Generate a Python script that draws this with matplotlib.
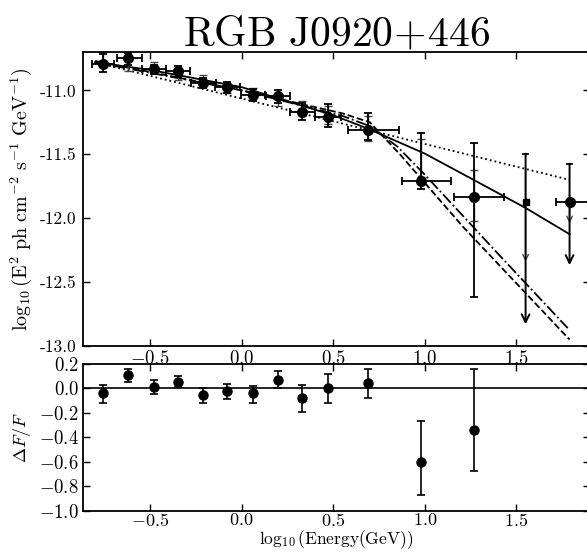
import matplotlib
matplotlib.use("Agg")
import matplotlib.pyplot as plt
from matplotlib.ticker import FixedLocator, FixedFormatter

plt.rcParams["mathtext.fontset"] = "cm"
plt.rcParams["font.family"] = ["cmr10", "DejaVu Serif"]
plt.rcParams["axes.formatter.use_mathtext"] = True

# Spectral points: log10(E/GeV) with bin half-widths, log10(E^2 dN/dE)
log_e = [-0.756, -0.62, -0.48, -0.35, -0.21, -0.078, 0.06, 0.197, 0.33, 0.47, 0.69, 0.978, 1.266]
log_e_lo = [0.06, 0.063, 0.065, 0.065, 0.066, 0.066, 0.066, 0.066, 0.066, 0.068, 0.112, 0.104, 0.109]
log_e_hi = [0.06, 0.074, 0.068, 0.068, 0.068, 0.068, 0.068, 0.068, 0.068, 0.07, 0.167, 0.165, 0.167]
log_flux = [-10.797, -10.75, -10.836, -10.85, -10.94, -10.974, -11.034, -11.045, -11.17, -11.21, -11.307, -11.71, -11.836]
flux_err_lo = [0.06, 0.05, 0.04, 0.045, 0.04, 0.045, 0.05, 0.055, 0.06, 0.08, 0.083, 0.065, 0.78]
flux_err_hi = [0.08, 0.04, 0.035, 0.04, 0.04, 0.04, 0.045, 0.05, 0.07, 0.10, 0.13, 0.373, 0.426]

# Statistical-only error bars
log_flux_stat = [-10.76, -10.80, -10.82, -10.88, -10.92, -10.98, -11.02, -11.07, -11.14, -11.19, -11.30, -11.53, -11.82]
flux_err_stat = [0.06, 0.05, 0.04, 0.04, 0.04, 0.04, 0.04, 0.05, 0.06, 0.07, 0.10, 0.15, 0.20]

# Upper limits in the highest-energy bins
ul_e = [1.55, 1.79]
ul_e_lo = [0.0, 0.074]
ul_e_hi = [0.0, 0.12]
ul_flux = [-11.87, -11.87]
ul_top = [-11.495, -11.573]
ul_end = [-12.83, -12.367]
ul_stat_top = [-11.64, -11.80]
ul_stat_end = [-12.34, -12.04]

# Model curves
pl_e = [-0.80, 1.79]
pl_flux = [-10.78, -11.70]
lp_e = [-0.80, -0.5, 0.0, 0.5, 0.69, 1.0, 1.266, 1.55, 1.79]
lp_flux = [-10.78, -10.84, -10.975, -11.195, -11.30, -11.495, -11.70, -11.92, -12.125]
bpl_e = [-0.80, 0.0, 0.55, 0.70, 0.87, 1.21, 1.79]
bpl_flux = [-10.77, -11.00, -11.18, -11.25, -11.51, -12.07, -12.95]
ec_e = [-0.80, 0.0, 0.55, 0.70, 0.85, 1.0, 1.42, 1.78]
ec_flux = [-10.78, -11.00, -11.20, -11.28, -11.44, -11.66, -12.31, -12.86]

# Residuals
resid = [-0.038, 0.11, 0.016, 0.05, -0.05, -0.02, -0.04, 0.07, -0.08, 0.0, 0.045, -0.60, -0.34]
resid_lo = [0.082, 0.06, 0.059, 0.04, 0.065, 0.063, 0.076, 0.07, 0.11, 0.12, 0.125, 0.268, 0.333]
resid_hi = [0.068, 0.05, 0.054, 0.05, 0.055, 0.06, 0.064, 0.07, 0.105, 0.12, 0.11, 0.335, 0.50]

x_ticks = [-0.5, 0.0, 0.5, 1.0, 1.5]
y_ticks = [-13.0, -12.5, -12.0, -11.5, -11.0]
y_tick_labels = ["-13.0", "-12.5", "-12.0", "-11.5", "-11.0"]

fig = plt.figure(figsize=(5.87, 5.52), dpi=100)
ax = fig.add_axes([0.1414, 0.3732, 0.8632, 0.5326])
axr = fig.add_axes([0.1414, 0.0745, 0.8632, 0.2661])

# model lines
ax.plot(pl_e, pl_flux, color="k", ls=":", lw=1.3)
ax.plot(lp_e, lp_flux, color="k", ls="-", lw=1.3)
ax.plot(bpl_e, bpl_flux, color="k", ls="--", lw=1.3)
ax.plot(ec_e, ec_flux, color="k", ls="-.", lw=1.3)

# statistical error bars
ax.errorbar(log_e, log_flux_stat, yerr=flux_err_stat, fmt="none",
            ecolor="#444444", elinewidth=1.0, capsize=3, capthick=1.0)
for xe, t, b in zip(ul_e, ul_stat_top, ul_stat_end):
    ax.annotate("", xy=(xe, b), xytext=(xe, t),
                arrowprops=dict(arrowstyle="->", color="#444444", lw=1.0,
                                shrinkA=0, shrinkB=0))

# full error bars with markers
ax.errorbar(log_e, log_flux, xerr=[log_e_lo, log_e_hi],
            yerr=[flux_err_lo, flux_err_hi], fmt="o", color="k", ms=7,
            elinewidth=1.3, capsize=3, capthick=1.3)

# upper limits
ax.errorbar(ul_e, ul_flux, xerr=[ul_e_lo, ul_e_hi], fmt="none", ecolor="k",
            elinewidth=1.3, capsize=3, capthick=1.3)
ax.plot(ul_e[:1], ul_flux[:1], "s", color="k", ms=4)
ax.plot(ul_e[1:], ul_flux[1:], "o", color="k", ms=7)
for xe, t, b in zip(ul_e, ul_top, ul_end):
    ax.plot([xe - 0.013, xe + 0.013], [t, t], color="k", lw=1.3)
    ax.annotate("", xy=(xe, b), xytext=(xe, t),
                arrowprops=dict(arrowstyle="->", color="k", lw=1.4,
                                mutation_scale=14, shrinkA=0, shrinkB=0))

ax.set_xlim(-0.866, 1.9)
ax.set_ylim(-13.0, -10.7)
ax.xaxis.set_major_locator(FixedLocator(x_ticks))
ax.yaxis.set_major_locator(FixedLocator(y_ticks))
ax.yaxis.set_major_formatter(FixedFormatter(y_tick_labels))
ax.set_ylabel(r"$\log_{10}(\mathrm{E}^2\ \mathrm{ph\ cm}^{-2}\ \mathrm{s}^{-1}\ \mathrm{GeV}^{-1})$",
              fontsize=14.5, labelpad=4)
ax.set_title(r"$\mathrm{RGB\ J0920\!+\!446}$", fontsize=30, pad=4)

# residual panel
axr.axhline(0.0, color="k", lw=1.2)
axr.errorbar(log_e, resid, yerr=[resid_lo, resid_hi], fmt="o", color="k",
             ms=6.5, elinewidth=1.2, capsize=3, capthick=1.2)
axr.set_xlim(-0.866, 1.9)
axr.set_ylim(-1.0, 0.2)
axr.xaxis.set_major_locator(FixedLocator(x_ticks))
axr.yaxis.set_major_locator(FixedLocator([-1.0, -0.8, -0.6, -0.4, -0.2, 0.0, 0.2]))
axr.set_ylabel(r"$\Delta F/F$", fontsize=13)
axr.set_xlabel(r"$\log_{10}(\mathrm{Energy(GeV)})$", fontsize=12.5, va="bottom")
axr.xaxis.set_label_coords(0.5, -0.275)

for a in (ax, axr):
    a.tick_params(direction="in", top=True, right=True, length=5, width=1,
                  labelsize=13.5, pad=3)
    for s in a.spines.values():
        s.set_linewidth(1.3)
ax.tick_params(axis="y", labelsize=12.5, pad=5)
axr.tick_params(axis="x", pad=1, labelsize=13)

fig.savefig("out.png", dpi=100)
